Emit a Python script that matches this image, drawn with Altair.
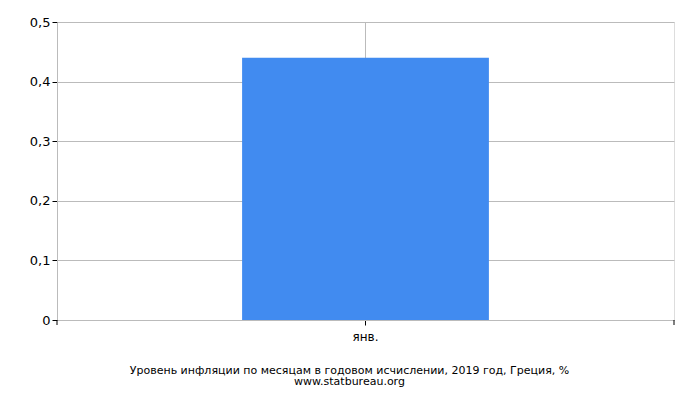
import altair as alt
import pandas as pd

months = ["янв."]
values = [0.44]
title_lines = ["Уровень инфляции по месяцам в годовом исчислении, 2019 год, Греция, %", "www.statbureau.org"]

df = pd.DataFrame({"month": months, "value": values})

FONT = "DejaVu Sans"
W, H = 617, 298
xscale = alt.Scale(paddingInner=0.6, paddingOuter=0.3)

bars = alt.Chart(df).mark_bar(color="#418BF0").encode(
    x=alt.X("month:N", scale=xscale, sort=None,
            axis=alt.Axis(title=None, orient="bottom", labelAngle=0, grid=True, gridColor="#BBBBBB",
                          domainColor="#BBBBBB", tickColor="#000000", tickSize=5,
                          labelFont=FONT, labelFontSize=12, labelColor="#000000", labelPadding=6)),
    y=alt.Y("value:Q", scale=alt.Scale(domain=[0, 0.5]),
            axis=alt.Axis(title=None, values=[0, 0.1, 0.2, 0.3, 0.4, 0.5], grid=True, gridColor="#BBBBBB",
                          domainColor="#BBBBBB", tickColor="#000000", tickSize=5, format=".1~f",
                          labelFont=FONT, labelFontSize=13, labelColor="#000000", labelPadding=2,
                          labelExpr="replace(datum.label, '.', ',')")),
)

left_tick = alt.Chart(df).mark_rule(color="#000000", strokeWidth=1).encode(
    x=alt.value(0), y=alt.value(H), y2=alt.value(H + 5))
right_tick = alt.Chart(df).mark_rule(color="#000000", strokeWidth=1).encode(
    x=alt.value(W), y=alt.value(H), y2=alt.value(H + 5))

chart = alt.layer(bars, left_tick, right_tick).properties(
    width=W, height=H,
    padding={"left": 49, "top": 14, "right": 18, "bottom": 72},
    autosize=alt.AutoSizeParams(type="none"),
    title=alt.TitleParams(text=title_lines, orient="bottom", anchor="middle", font=FONT,
                          fontSize=11, fontWeight="normal", color="#000000", offset=23, lineHeight=11,
                          dx=-16),
).configure_view(stroke="#BBBBBB").configure(background="white")

chart.save("out.html", embed_options={"renderer": "svg", "actions": False})
